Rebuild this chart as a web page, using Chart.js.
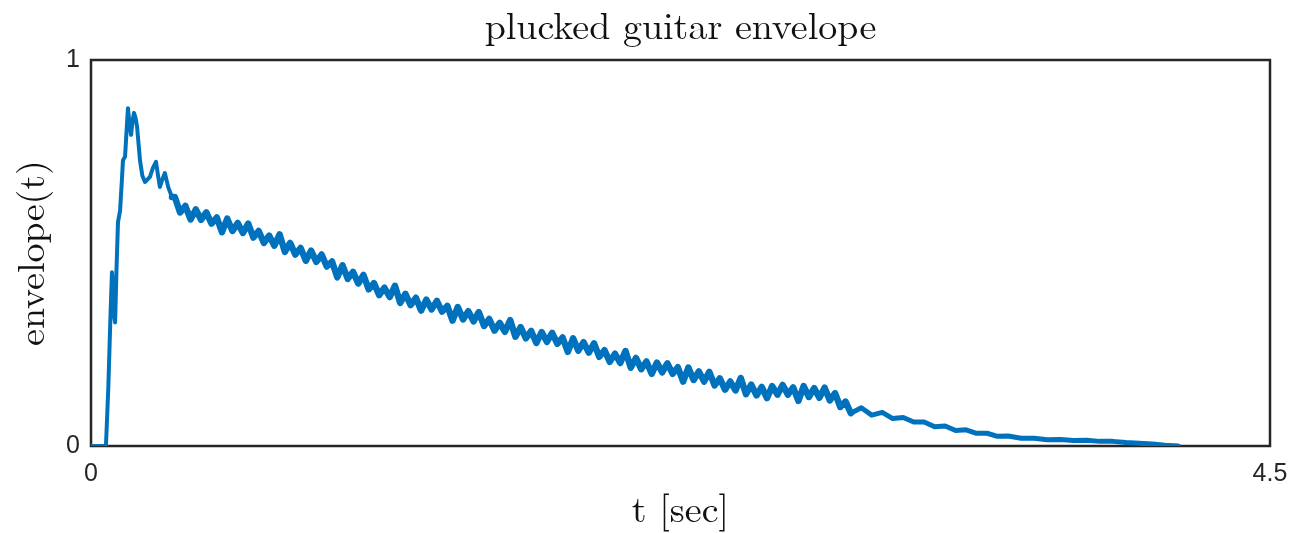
<!DOCTYPE html>
<html>
<head>
<meta charset="utf-8">
<script src="https://cdn.jsdelivr.net/npm/chart.js@4"></script>
<style>
  html, body { margin: 0; padding: 0; background: #fff; }
  #wrap { width: 1290px; height: 533px; position: relative; }
</style>
</head>
<body>
<div id="wrap"><canvas id="envChart"></canvas></div>
<script>
// time axis (sec) and envelope values
const attackTime = [0, 0.057, 0.066, 0.074, 0.080, 0.084, 0.088, 0.092, 0.097, 0.103, 0.111, 0.118,
    0.122, 0.130, 0.137, 0.141, 0.146, 0.153, 0.158, 0.164, 0.170, 0.176, 0.187, 0.196, 0.206,
    0.215, 0.225, 0.236, 0.248, 0.256, 0.263, 0.272, 0.282, 0.295, 0.309];
const attackEnv = [0, 0, 0.15, 0.33, 0.45, 0.41, 0.34, 0.32, 0.45, 0.58, 0.61, 0.69,
    0.74, 0.75, 0.83, 0.875, 0.84, 0.806, 0.84, 0.863, 0.85, 0.826, 0.74, 0.70, 0.684,
    0.69, 0.697, 0.72, 0.736, 0.70, 0.671, 0.69, 0.707, 0.67, 0.645];

// decay section, sampled every 0.02 s from 0.32 to 2.90
const decayStart = 0.32;
const decayStep = 0.02;
const decayEnv = [
    0.645, 0.605, 0.622, 0.587, 0.613, 0.586, 0.605, 0.576, 0.592, 0.554,
    0.589, 0.557, 0.578, 0.552, 0.576, 0.540, 0.557, 0.526, 0.545, 0.519,
    0.548, 0.503, 0.526, 0.496, 0.513, 0.480, 0.506, 0.477, 0.496, 0.465,
    0.478, 0.437, 0.468, 0.433, 0.451, 0.421, 0.443, 0.406, 0.422, 0.391,
    0.410, 0.386, 0.415, 0.371, 0.394, 0.365, 0.384, 0.351, 0.379, 0.354,
    0.376, 0.348, 0.363, 0.325, 0.360, 0.328, 0.349, 0.323, 0.347, 0.311,
    0.329, 0.299, 0.319, 0.296, 0.326, 0.283, 0.308, 0.279, 0.298, 0.267,
    0.295, 0.270, 0.293, 0.265, 0.281, 0.244, 0.279, 0.247, 0.269, 0.242,
    0.266, 0.231, 0.248, 0.218, 0.239, 0.215, 0.246, 0.203, 0.228, 0.199,
    0.219, 0.187, 0.216, 0.191, 0.214, 0.187, 0.204, 0.167, 0.203, 0.171,
    0.193, 0.167, 0.192, 0.157, 0.175, 0.146, 0.167, 0.144, 0.176, 0.134,
    0.159, 0.131, 0.153, 0.124, 0.155, 0.133, 0.158, 0.133, 0.152, 0.117,
    0.155, 0.127, 0.150, 0.125, 0.151, 0.118, 0.137, 0.101, 0.115, 0.085
];

// tail of the note
const tailTime = [2.94, 2.98, 3.02, 3.06, 3.10, 3.14, 3.18, 3.22, 3.26, 3.30, 3.34, 3.38,
    3.42, 3.46, 3.50, 3.55, 3.60, 3.65, 3.70, 3.75, 3.80, 3.85, 3.90, 3.95, 4.00, 4.05, 4.10, 4.15];
const tailEnv = [0.099, 0.080, 0.087, 0.071, 0.074, 0.062, 0.062, 0.050, 0.052, 0.040, 0.042, 0.033,
    0.033, 0.025, 0.026, 0.020, 0.020, 0.016, 0.017, 0.014, 0.015, 0.012, 0.012, 0.009, 0.007, 0.005, 0.002, 0];

const xTicks = [0, 4.5];
const yTicks = [0, 1];

const lineColor = '#0072BD';
const axisColor = '#262626';
const titleText = 'plucked guitar envelope';

const serif = "'Latin Modern Roman', 'CMU Serif', 'Liberation Serif', serif";
const sans = "'Liberation Sans', Arial, sans-serif";

function attackPoints() {
    return attackTime.map((t, i) => ({ x: t, y: attackEnv[i] }));
}

function decayPoints() {
    const pts = [{ x: attackTime[attackTime.length - 1], y: attackEnv[attackEnv.length - 1] }];
    decayEnv.forEach((v, i) => pts.push({ x: +(decayStart + i * decayStep).toFixed(3), y: v }));
    return pts;
}

function tailPoints() {
    const pts = [{ x: +(decayStart + (decayEnv.length - 1) * decayStep).toFixed(3), y: decayEnv[decayEnv.length - 1] }];
    tailTime.forEach((t, i) => pts.push({ x: t, y: tailEnv[i] }));
    return pts;
}

function lineSet(points, width) {
    return {
        data: points,
        borderColor: lineColor,
        borderWidth: width,
        borderJoinStyle: 'round',
        borderCapStyle: 'round',
        pointRadius: 0,
        tension: 0,
        fill: false
    };
}

// full box around the plot area
const boxFrame = {
    id: 'boxFrame',
    beforeDatasetsDraw(chart) {
        const { ctx, chartArea: a } = chart;
        ctx.save();
        ctx.strokeStyle = axisColor;
        ctx.lineWidth = 2.5;
        ctx.strokeRect(a.left, a.top, a.right - a.left, a.bottom - a.top);
        ctx.restore();
    }
};

// title centred over the plot area (not the whole canvas)
const plotTitle = {
    id: 'plotTitle',
    afterDraw(chart) {
        const { ctx, chartArea: a } = chart;
        ctx.save();
        ctx.fillStyle = '#111';
        ctx.font = '38px ' + serif;
        ctx.textAlign = 'center';
        ctx.textBaseline = 'middle';
        ctx.fillText(titleText, (a.left + a.right) / 2, 27);
        ctx.restore();
    }
};

new Chart(document.getElementById('envChart'), {
    type: 'line',
    data: {
        datasets: [
            lineSet(attackPoints(), 4),
            lineSet(decayPoints(), 6.5),
            lineSet(tailPoints(), 5)
        ]
    },
    options: {
        responsive: true,
        maintainAspectRatio: false,
        animation: false,
        layout: { padding: { left: 0, right: 20, top: 60, bottom: 0 } },
        plugins: {
            legend: { display: false },
            tooltip: { enabled: false },
            title: { display: false }
        },
        scales: {
            x: {
                type: 'linear',
                min: 0,
                max: 4.5,
                afterBuildTicks: s => { s.ticks = xTicks.map(v => ({ value: v })); },
                afterFit: s => { s.height = 87; s.paddingLeft = 0; s.paddingRight = 0; },
                grid: { display: false, drawTicks: false },
                border: { display: false },
                ticks: {
                    color: axisColor,
                    font: { family: sans, size: 25 },
                    padding: 13,
                    maxRotation: 0,
                    autoSkip: false
                },
                title: {
                    display: true,
                    text: 't [sec]',
                    color: '#111',
                    font: { family: serif, size: 38 },
                    padding: { top: 0, bottom: 0 }
                }
            },
            y: {
                min: 0,
                max: 1,
                afterBuildTicks: s => { s.ticks = yTicks.map(v => ({ value: v })); },
                afterFit: s => { s.width = 91; s.paddingTop = 0; s.paddingBottom = 0; },
                grid: { display: false, drawTicks: false },
                border: { display: false },
                ticks: {
                    color: axisColor,
                    font: { family: sans, size: 25 },
                    padding: 11
                },
                title: {
                    display: true,
                    text: 'envelope(t)',
                    color: '#111',
                    font: { family: serif, size: 38 },
                    padding: { top: 10, bottom: 0 }
                }
            }
        }
    },
    plugins: [boxFrame, plotTitle]
});
</script>
</body>
</html>
